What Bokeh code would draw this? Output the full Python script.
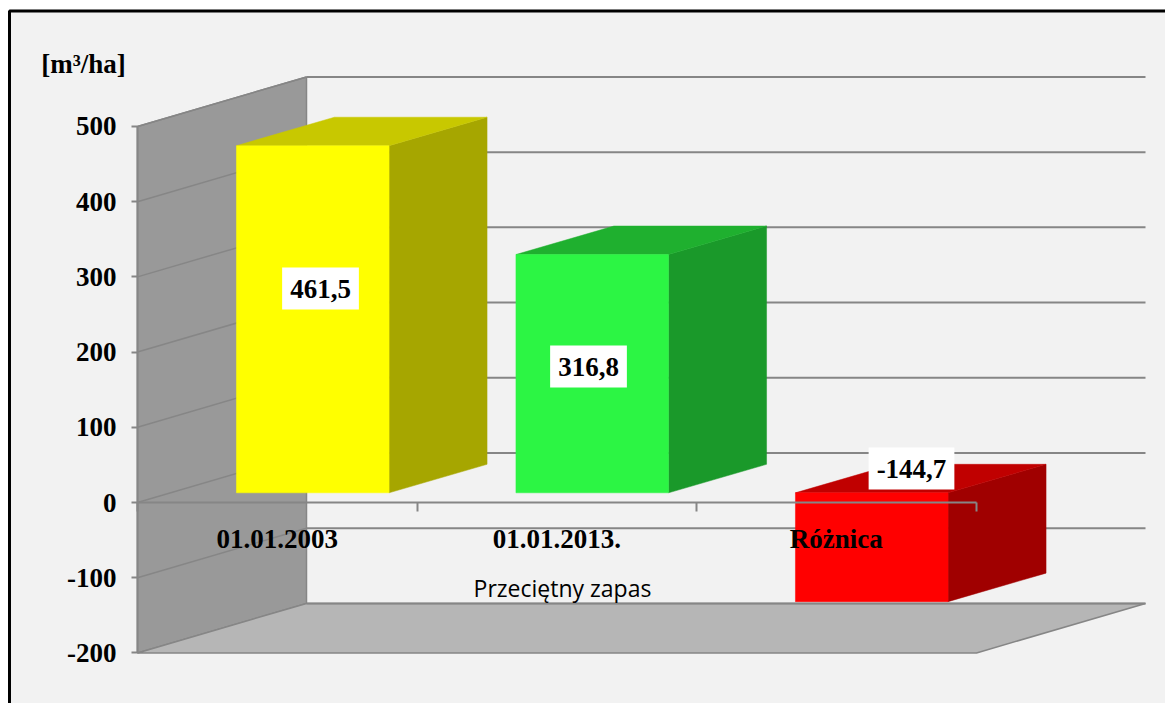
from bokeh.plotting import figure
from bokeh.models import Range1d, LinearAxis, FixedTicker, Label
from bokeh.embed import file_html
from bokeh.resources import INLINE

categories = ["01.01.2003", "01.01.2013.", "Różnica"]
values = [461.5, 316.8, -144.7]
value_labels = ["461,5", "316,8", "-144,7"]
y_ticks = [500, 400, 300, 200, 100, 0, -100, -200]
y_tick_labels = ["500", "400", "300", "200", "100", "0", "-100", "-200"]
y_title = "[m³/ha]"
x_title = "Przeciętny zapas"

FRONT = ["#ffff00", "#2cf544", "#ff0000"]
TOP = ["#c8c800", "#1fb02f", "#c00000"]
SIDE = ["#a6a600", "#1a992a", "#a00000"]
GRID = "#868686"
BG = "#f2f2f2"

# picture geometry
W, H = 1165, 703
X0_PX, XU = 137.0, 279.5     # x=0 pixel, pixels per category
Y0_PX, YU = 502.0, 0.7521    # value=0 pixel, pixels per value


def dx(px):
    return (px - X0_PX) / XU


def dy(px):
    return (Y0_PX - px) / YU


p = figure(width=W, height=H, output_backend="svg", toolbar_location=None,
           x_range=Range1d(dx(0), dx(W)), y_range=Range1d(dy(H), dy(0)),
           x_axis_type=None, y_axis_type=None, min_border=0,
           background_fill_color="#ffffff", border_fill_color="#ffffff", outline_line_color=None)
p.grid.visible = False

# panel background
p.quad(left=dx(8), right=dx(W), bottom=dy(H), top=dy(9), fill_color=BG, line_color=None)

wall_dx, wall_dy = 169 / XU, 49.5 / YU
grid_end = dx(1145)
ymin, ymax = min(y_ticks), max(y_ticks)

# left wall and floor
p.patch([0, wall_dx, wall_dx, 0], [ymin, ymin + wall_dy, ymax + wall_dy, ymax],
        fill_color="#999999", line_color=GRID, line_width=1.5)
p.patch([0, wall_dx, grid_end, grid_end - wall_dx],
        [ymin, ymin + wall_dy, ymin + wall_dy, ymin],
        fill_color="#b6b6b6", line_color=GRID, line_width=1.5)

# grid lines: along the wall, then along the back
for v in y_ticks:
    if v != ymin:
        p.line([0, wall_dx], [v, v + wall_dy], line_color=GRID, line_width=1.5)
    p.line([wall_dx, grid_end], [v + wall_dy, v + wall_dy], line_color=GRID, line_width=2)

# 3D bars
lift = 9.7 / YU
bar_l, bar_r = 0.354, 0.9
depth_x, depth_y = 98 / XU, 28.5 / YU
for i, v in enumerate(values):
    l, r = i + bar_l, i + bar_r
    lo, hi = min(0, v) + lift, max(0, v) + lift
    p.patch([r, r + depth_x, r + depth_x, r],
            [lo, lo + depth_y, hi + depth_y, hi],
            fill_color=SIDE[i], line_color=SIDE[i], line_width=0.5)
    p.patch([l, l + depth_x, r + depth_x, r],
            [hi, hi + depth_y, hi + depth_y, hi],
            fill_color=TOP[i], line_color=TOP[i], line_width=0.5)
    p.patch([l, r, r, l], [lo, lo, hi, hi],
            fill_color=FRONT[i], line_color=FRONT[i], line_width=0.5)

# value axis
yax = LinearAxis(fixed_location=0, ticker=FixedTicker(ticks=y_ticks), bounds=(ymin, ymax),
                 major_label_overrides=dict(zip(y_ticks, y_tick_labels)))
yax.axis_line_color = GRID
yax.axis_line_width = 2
yax.major_tick_line_color = GRID
yax.major_tick_line_width = 2
yax.major_tick_in = 0
yax.major_tick_out = 6
yax.minor_tick_line_color = None
yax.major_label_standoff = 15
yax.major_label_text_font = "Liberation Serif"
yax.major_label_text_font_style = "bold"
yax.major_label_text_font_size = "27px"
yax.major_label_text_color = "#000000"
p.add_layout(yax, "left")

# category axis: line and boundary ticks
n = len(categories)
xax = LinearAxis(fixed_location=0, ticker=FixedTicker(ticks=list(range(n + 1))), bounds=(0, n))
xax.axis_line_color = GRID
xax.axis_line_width = 2
xax.major_tick_line_color = GRID
xax.major_tick_line_width = 2
xax.major_tick_in = 0
xax.major_tick_out = 9
xax.minor_tick_line_color = None
xax.major_label_text_font_size = "0px"
xax.major_label_text_color = None
p.add_layout(xax, "below")

# category labels + axis title
cax = LinearAxis(fixed_location=0, ticker=FixedTicker(ticks=[i + 0.5 for i in range(n)]),
                 bounds=(0, 3.04),
                 major_label_overrides={i + 0.5: c for i, c in enumerate(categories)})
cax.axis_line_color = None
cax.major_tick_line_color = None
cax.minor_tick_line_color = None
cax.major_tick_in = 0
cax.major_tick_out = 0
cax.major_label_standoff = 21
cax.major_label_text_font = "Liberation Serif"
cax.major_label_text_font_style = "bold"
cax.major_label_text_font_size = "27px"
cax.major_label_text_color = "#000000"
cax.axis_label = x_title
cax.axis_label_standoff = 15
cax.axis_label_text_font = "Open Sans"
cax.axis_label_text_font_style = "normal"
cax.axis_label_text_font_size = "23px"
cax.axis_label_text_color = "#000000"
p.add_layout(cax, "below")

# value labels with white boxes
label_x = [320, 588, 911]
label_y = [288, 366, 468]
for t, lx, ly in zip(value_labels, label_x, label_y):
    p.add_layout(Label(x=dx(lx), y=dy(ly), text=t, text_align="center", text_baseline="middle",
                       text_font="Liberation Serif", text_font_style="bold",
                       text_font_size="27px", text_color="#000000",
                       background_fill_color="#ffffff", padding=(8, 12)))

p.add_layout(Label(x=dx(83), y=dy(63), text=y_title, text_align="center", text_baseline="middle",
                   text_font="Liberation Serif", text_font_style="bold",
                   text_font_size="27px", text_color="#000000"))

# black frame (top and left only)
p.line([dx(9), dx(9), dx(W)], [dy(H), dy(10.5), dy(10.5)],
       line_color="#000000", line_width=3)

open("out.html", "w").write(file_html(p, INLINE))
